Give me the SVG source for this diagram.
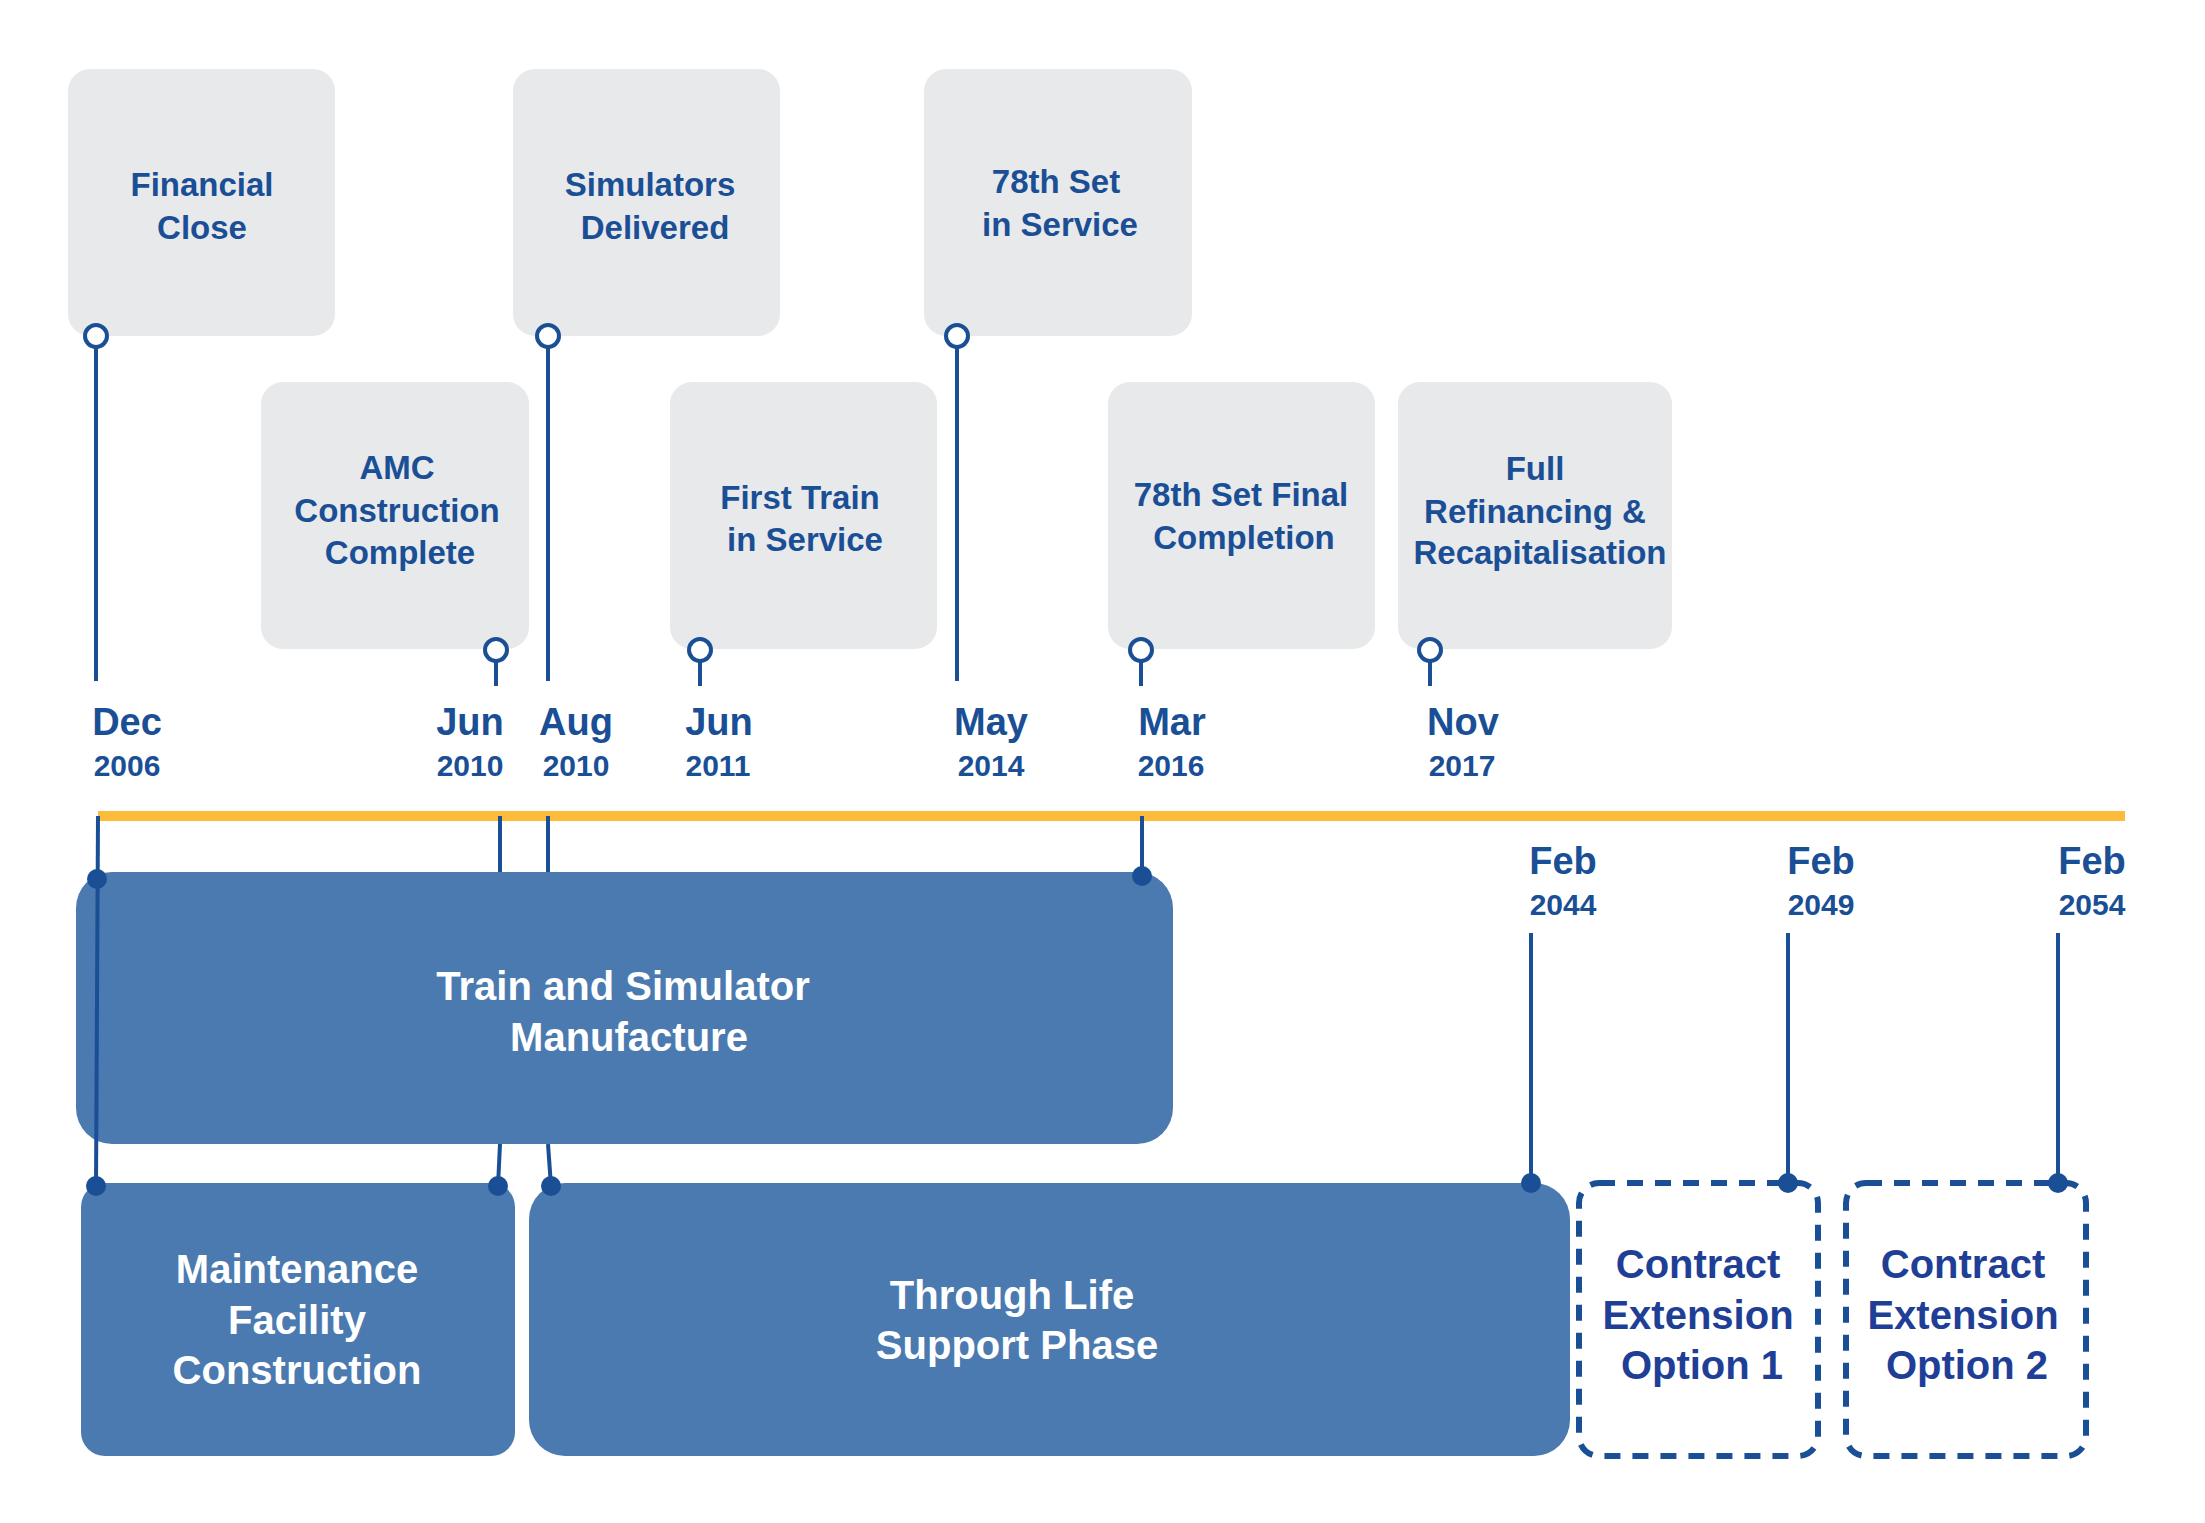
<svg xmlns="http://www.w3.org/2000/svg" width="2205" height="1523" viewBox="0 0 2205 1523">
<style>
.card{fill:#e8e9eb}
.ct{font-family:"Liberation Sans",Arial,sans-serif;font-weight:bold;font-size:33px;fill:#1a4f96;text-anchor:middle}
.mo{font-family:"Liberation Sans",Arial,sans-serif;font-weight:bold;font-size:38px;fill:#1a4f96;text-anchor:middle}
.yr{font-family:"Liberation Sans",Arial,sans-serif;font-weight:bold;font-size:30px;fill:#1a4f96;text-anchor:middle}
.bar{fill:#4a7ab0}
.bt{font-family:"Liberation Sans",Arial,sans-serif;font-weight:bold;font-size:40px;fill:#fff;text-anchor:middle}
.dt{font-family:"Liberation Sans",Arial,sans-serif;font-weight:bold;font-size:40px;fill:#1f3f97;text-anchor:middle}
.dash{fill:none;stroke:#1a4f96;stroke-width:6;stroke-dasharray:16 12}
.ln{stroke:#1a4f96;stroke-width:4;fill:none}
.pin{fill:#fff;stroke:#1a4f96;stroke-width:4}
.dot{fill:#1a4f96}
</style>
<rect width="2205" height="1523" fill="#fff"/>
<g id="fin"><rect class="card" x="68" y="69" width="267" height="267" rx="22"/><text class="ct" x="202" y="196">Financial</text><text class="ct" x="202" y="239">Close</text></g>
<g id="sim"><rect class="card" x="513" y="69" width="267" height="267" rx="22"/><text class="ct" x="650" y="196">Simulators</text><text class="ct" x="655" y="239">Delivered</text></g>
<g id="set78"><rect class="card" x="924" y="69" width="268" height="267" rx="22"/><text class="ct" x="1056" y="193">78th Set</text><text class="ct" x="1060" y="236">in Service</text></g>
<g id="amc"><rect class="card" x="261" y="382" width="268" height="267" rx="22"/><text class="ct" x="397" y="479">AMC</text><text class="ct" x="397" y="522">Construction</text><text class="ct" x="400" y="564">Complete</text></g>
<g id="ft"><rect class="card" x="670" y="382" width="267" height="267" rx="22"/><text class="ct" x="800" y="509">First Train</text><text class="ct" x="805" y="551">in Service</text></g>
<g id="set78f"><rect class="card" x="1108" y="382" width="267" height="267" rx="22"/><text class="ct" x="1241" y="506">78th Set Final</text><text class="ct" x="1244" y="549">Completion</text></g>
<g id="refi"><rect class="card" x="1398" y="382" width="274" height="267" rx="22"/><text class="ct" x="1535" y="480">Full</text><text class="ct" x="1535" y="523">Refinancing &amp;</text><text class="ct" x="1540" y="564">Recapitalisation</text></g>

<rect x="98" y="811" width="2027" height="10" fill="#fdbb3a"/>

<g id="trainmfg"><rect class="bar" x="76" y="872" width="1097" height="272" rx="36"/><text class="bt" x="623" y="1000">Train and Simulator</text><text class="bt" x="629" y="1051">Manufacture</text></g>
<g id="maint"><rect class="bar" x="81" y="1183" width="434" height="273" rx="24"/><text class="bt" x="297" y="1283">Maintenance</text><text class="bt" x="297" y="1334">Facility</text><text class="bt" x="297" y="1384">Construction</text></g>
<g id="tls"><rect class="bar" x="529" y="1183" width="1041" height="273" rx="36"/><text class="bt" x="1012" y="1309">Through Life</text><text class="bt" x="1017" y="1359">Support Phase</text></g>
<g id="opt1"><rect class="dash" x="1579" y="1183" width="239" height="273" rx="20"/><text class="dt" x="1698" y="1278">Contract</text><text class="dt" x="1698" y="1329">Extension</text><text class="dt" x="1702" y="1379">Option 1</text></g>
<g id="opt2"><rect class="dash" x="1846" y="1183" width="240" height="273" rx="20"/><text class="dt" x="1963" y="1278">Contract</text><text class="dt" x="1963" y="1329">Extension</text><text class="dt" x="1967" y="1379">Option 2</text></g>

<g id="dates">
<text class="mo" x="127" y="735">Dec</text><text class="yr" x="127" y="776">2006</text>
<text class="mo" x="470" y="735">Jun</text><text class="yr" x="470" y="776">2010</text>
<text class="mo" x="576" y="735">Aug</text><text class="yr" x="576" y="776">2010</text>
<text class="mo" x="719" y="735">Jun</text><text class="yr" x="718" y="776">2011</text>
<text class="mo" x="991" y="735">May</text><text class="yr" x="991" y="776">2014</text>
<text class="mo" x="1172" y="735">Mar</text><text class="yr" x="1171" y="776">2016</text>
<text class="mo" x="1463" y="735">Nov</text><text class="yr" x="1462" y="776">2017</text>
<text class="mo" x="1563" y="874">Feb</text><text class="yr" x="1563" y="915">2044</text>
<text class="mo" x="1821" y="874">Feb</text><text class="yr" x="1821" y="915">2049</text>
<text class="mo" x="2092" y="874">Feb</text><text class="yr" x="2092" y="915">2054</text>
</g>

<g id="connectors">
<line class="ln" x1="96" y1="347" x2="96" y2="681"/>
<line class="ln" x1="548" y1="347" x2="548" y2="681"/>
<line class="ln" x1="957" y1="347" x2="957" y2="681"/>
<line class="ln" x1="496" y1="661" x2="496" y2="686"/>
<line class="ln" x1="700" y1="661" x2="700" y2="686"/>
<line class="ln" x1="1141" y1="661" x2="1141" y2="686"/>
<line class="ln" x1="1430" y1="661" x2="1430" y2="686"/>
<circle class="pin" cx="96" cy="336" r="11"/>
<circle class="pin" cx="548" cy="336" r="11"/>
<circle class="pin" cx="957" cy="336" r="11"/>
<circle class="pin" cx="496" cy="650" r="11"/>
<circle class="pin" cx="700" cy="650" r="11"/>
<circle class="pin" cx="1141" cy="650" r="11"/>
<circle class="pin" cx="1430" cy="650" r="11"/>
<line class="ln" x1="98" y1="816" x2="96" y2="1186"/>
<line class="ln" x1="500" y1="816" x2="500" y2="872"/>
<line class="ln" x1="500" y1="1144" x2="498" y2="1186"/>
<line class="ln" x1="548" y1="816" x2="548" y2="872"/>
<line class="ln" x1="548" y1="1144" x2="551" y2="1186"/>
<line class="ln" x1="1142" y1="816" x2="1142" y2="876"/>
<line class="ln" x1="1531" y1="933" x2="1531" y2="1183"/>
<line class="ln" x1="1788" y1="933" x2="1788" y2="1183"/>
<line class="ln" x1="2058" y1="933" x2="2058" y2="1183"/>
<circle class="dot" cx="97" cy="879" r="10"/>
<circle class="dot" cx="96" cy="1186" r="10"/>
<circle class="dot" cx="498" cy="1186" r="10"/>
<circle class="dot" cx="551" cy="1186" r="10"/>
<circle class="dot" cx="1142" cy="876" r="10"/>
<circle class="dot" cx="1531" cy="1183" r="10"/>
<circle class="dot" cx="1788" cy="1183" r="10"/>
<circle class="dot" cx="2058" cy="1183" r="10"/>
</g>
</svg>
